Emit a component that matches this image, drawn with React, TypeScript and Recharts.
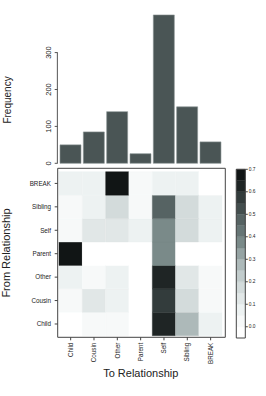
import React from 'react';
import { BarChart, Bar, XAxis, YAxis, Cell, ReferenceLine } from 'recharts';

const toCats = ['Child', 'Cousin', 'Other', 'Parent', 'Self', 'Sibling', 'BREAK'];
const freq = [50, 85, 140, 26, 402, 153, 58];
const freqTicks = [0, 100, 200, 300];

// rows of the heatmap, bottom to top
const fromCats = ['Child', 'Cousin', 'Other', 'Parent', 'Self', 'Sibling', 'BREAK'];
const fromChild = [0, 0.03, 0.03, 0, 0.62, 0.28, 0.07];
const fromCousin = [0.03, 0.12, 0.07, 0, 0.57, 0.17, 0.03];
const fromOther = [0.07, 0.03, 0.07, 0, 0.63, 0.12, 0.03];
const fromParent = [0.68, 0, 0, 0, 0.38, 0, 0];
const fromSelf = [0.03, 0.12, 0.12, 0.07, 0.38, 0.17, 0.08];
const fromSibling = [0.02, 0.07, 0.17, 0.02, 0.47, 0.18, 0.07];
const fromBreak = [0.07, 0.07, 0.68, 0.02, 0.07, 0.07, 0];
const matrix = [fromChild, fromCousin, fromOther, fromParent, fromSelf, fromSibling, fromBreak];

const rowTicks = [0.5, 1.5, 2.5, 3.5, 4.5, 5.5, 6.5];
const scaleBreaks = [-0.05, 0, 0.05, 0.1, 0.15, 0.2, 0.25, 0.3, 0.35, 0.4, 0.45, 0.5, 0.55, 0.6, 0.65, 0.7];
const scaleTicks = [0, 0.1, 0.2, 0.3, 0.4, 0.5, 0.6, 0.7];
const palette = [
  '#ffffff', '#f7f9f9', '#edf2f2', '#e1e7e7', '#d3dbdb', '#c2cccc', '#adb9b9', '#95a3a3',
  '#7a8a89', '#667575', '#566363', '#434e4e', '#333c3c', '#1f2525', '#111515',
];

const colorOf = (v: number) => {
  if (v <= 0) return palette[0];
  return palette[Math.min(palette.length - 1, Math.ceil(v / 0.05 - 1e-9))];
};

const barData = toCats.map((c, i) => ({ to: c, freq: freq[i] }));
const heatData = toCats.map((c) => {
  const o: Record<string, any> = { to: c };
  fromCats.forEach((r) => { o[r] = 1; });
  return o;
});
// colour key: one stacked column, each band spans one interval of scaleBreaks
const keyRow: Record<string, any> = { k: 'key' };
palette.forEach((_, b) => {
  const lo = scaleBreaks[b];
  const hi = scaleBreaks[b + 1];
  keyRow['b' + b] = hi <= 0 ? lo - hi : hi - lo;
});
const keyData = [keyRow];

const W = 266;
const H = 396;
const TXT = '#222';
const LINE = '#444';

const FreqTick = (p: any) => (
  <text x={p.x} y={p.y} transform={`rotate(-90 ${p.x} ${p.y})`} textAnchor="middle" fontSize={7.5} fill={TXT}>
    {p.payload.value}
  </text>
);

const RotTick = (p: any) => (
  <text x={p.x} y={p.y} transform={`rotate(-90 ${p.x} ${p.y})`} textAnchor="end" dy="0.35em" fontSize={6.3} fill={TXT}>
    {p.payload.value}
  </text>
);

const abs: React.CSSProperties = { position: 'absolute', left: 0, top: 0, width: W, height: H };

export default function App() {
  return (
    <div style={{ position: 'absolute', left: 0, top: 0, width: W, height: H, background: '#fff', fontFamily: '"Liberation Sans", Arial, sans-serif', overflow: 'hidden' }}>
      {/* Frequency bar chart */}
      <div style={abs}>
        <BarChart width={W} height={H} data={barData} margin={{ top: 8.3, right: 40.7, bottom: 232.7, left: 37.7 }} barSize={21}>
          <XAxis dataKey="to" hide padding={{ left: 1.3, right: 3 }} />
          <XAxis xAxisId="n" type="number" domain={[0, 7]} hide padding={{ left: 1.3, right: 3 }} />
          <YAxis width={20} domain={[0, 420]} ticks={freqTicks} axisLine={false} tickSize={3} tickMargin={3.5}
            tickLine={{ stroke: '#555' }} tick={FreqTick} interval={0} />
          <ReferenceLine xAxisId="n" segment={[{ x: -0.06, y: 0 }, { x: -0.06, y: 300 }]} stroke="#555" ifOverflow="visible" />
          <Bar dataKey="freq" fill="#4a5555" stroke="#8a9494" strokeWidth={0.6} isAnimationActive={false} />
        </BarChart>
      </div>

      {/* Heatmap */}
      <div style={abs}>
        <BarChart width={W} height={H} data={heatData} margin={{ top: 163.3, right: 35.7, bottom: 28.7, left: 27.7 }}
          barCategoryGap={0} barGap={0}>
          <XAxis dataKey="to" padding={{ left: 1.3, right: 3 }} height={30} tickSize={3} tickMargin={2.4}
            stroke={LINE} tick={RotTick} interval={0} />
          <XAxis xAxisId="top" dataKey="to" orientation="top" padding={{ left: 1.3, right: 3 }} height={5} tickSize={2}
            stroke={LINE} tick={false} interval={0} />
          <YAxis type="number" domain={[0, 7]} ticks={rowTicks} width={30} padding={{ top: 3.4, bottom: 1.6 }}
            tickFormatter={(v: number) => fromCats[Math.floor(v)]} tickSize={3} tickMargin={3.7} stroke={LINE}
            tick={{ fontSize: 6.3, fill: TXT }} interval={0} />
          <YAxis yAxisId="right" orientation="right" type="number" domain={[0, 7]} ticks={rowTicks} width={5}
            padding={{ top: 3.4, bottom: 1.6 }} tickSize={2} stroke={LINE} tick={false} interval={0} />
          {fromCats.map((r, i) => (
            <Bar key={r} dataKey={r} stackId="h" isAnimationActive={false}>
              {toCats.map((c, j) => (
                <Cell key={c} fill={colorOf(matrix[i][j])} stroke={colorOf(matrix[i][j])} strokeWidth={0.4} />
              ))}
            </Bar>
          ))}
        </BarChart>
      </div>

      {/* Colour key */}
      <div style={abs}>
        <BarChart width={W} height={H} data={keyData} stackOffset="sign" barCategoryGap={0} barGap={0}
          margin={{ top: 168.3, right: 0.7, bottom: 57, left: 235.3 }}>
          <XAxis dataKey="k" height={1} tick={false} tickLine={false} stroke={LINE} />
          <XAxis xAxisId="top" dataKey="k" orientation="top" height={1} tick={false} tickLine={false} stroke={LINE} />
          <YAxis yAxisId="l" type="number" domain={[-0.05, 0.7]} width={1} tick={false} tickLine={false} stroke={LINE} />
          <YAxis orientation="right" type="number" domain={[-0.05, 0.7]} ticks={scaleTicks} width={20}
            tickSize={2.5} tickMargin={1} stroke={LINE} tick={{ fontSize: 4.8, fill: TXT }}
            tickFormatter={(v: number) => v.toFixed(1)} interval={0} />
          {palette.map((col, b) => (
            <Bar key={b} dataKey={'b' + b} stackId="key" fill={col} stroke={col} strokeWidth={0.3} isAnimationActive={false} />
          ))}
        </BarChart>
      </div>

      {/* Titles */}
      <svg width={W} height={H} style={{ position: 'absolute', left: 0, top: 0, pointerEvents: 'none' }}>
        <text x={10.6} y={100} transform="rotate(-90 10.6 100)" textAnchor="middle" fontSize={10} fill={TXT}>Frequency</text>
        <text x={10.4} y={253} transform="rotate(-90 10.4 253)" textAnchor="middle" fontSize={11} fill={TXT}>From Relationship</text>
        <text x={140.8} y={377} textAnchor="middle" fontSize={11} fill={TXT}>To Relationship</text>
      </svg>
    </div>
  );
}
